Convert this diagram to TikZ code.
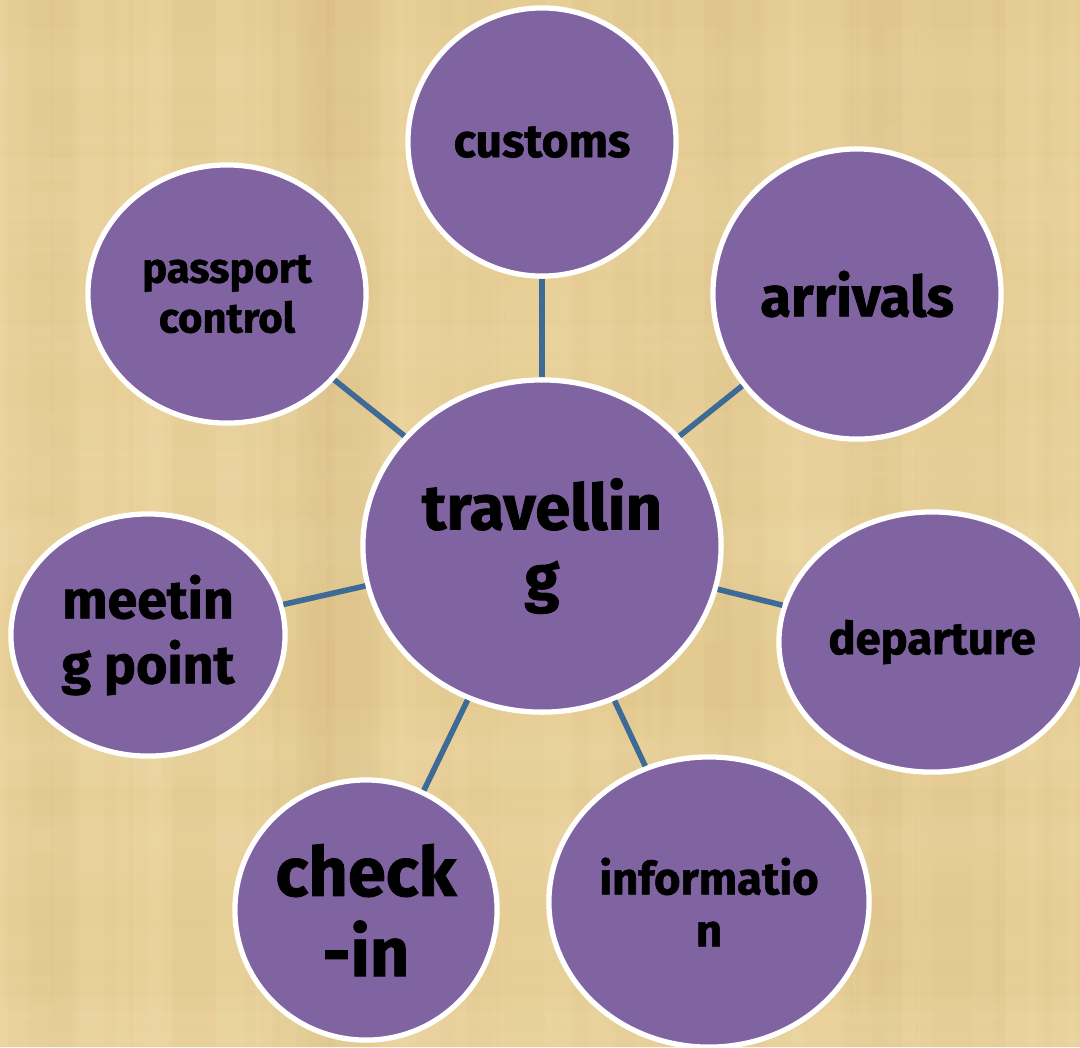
\documentclass[tikz,border=0pt]{standalone}
\usepackage{fontspec}
\setmainfont{Fira Sans}[BoldFeatures={FakeBold=1.2}]
\usetikzlibrary{shapes.geometric}

\definecolor{papier}{RGB}{233,208,152}
\definecolor{faser}{RGB}{200,165,100}
\definecolor{hell}{RGB}{248,232,185}
\definecolor{lila}{RGB}{128,100,162}
\definecolor{linie}{RGB}{62,106,150}

\newcommand{\schrift}[2]{\bfseries\fontsize{#1}{#2}\selectfont}

\tikzset{
  blase/.style={ellipse,draw=white,line width=1.5pt,fill=lila,inner sep=0pt,align=center,text=black},
  verbindung/.style={draw=linie,line width=1.6pt}
}

\begin{document}
\begin{tikzpicture}[x=0.01cm,y=-0.01cm]
    % Hintergrund
    \useasboundingbox (0,0) rectangle (1080,1047);
    \clip (0,0) rectangle (1080,1047);
    \fill[papier] (0,0) rectangle (1080,1047);
    \pgfmathsetseed{11}
    \foreach \i in {1,...,60} {
      \pgfmathsetmacro{\px}{random(0,1080)}
      \pgfmathsetmacro{\pw}{random(8,90)}
      \pgfmathsetmacro{\py}{random(0,1047)}
      \pgfmathsetmacro{\ph}{random(8,90)}
      \fill[faser,opacity=0.04] (\px,0) rectangle (\px+\pw,1047);
      \fill[hell,opacity=0.07] (0,\py) rectangle (1080,\py+\ph);
    }

    % Mitte
    \node[blase,minimum width=3.58cm,minimum height=3.32cm,font=\schrift{18}{20}] (reisen) at (542,546) {travellin\\g};

    % Aussen
    \node[blase,minimum width=2.68cm,minimum height=2.68cm,font=\schrift{13.2}{15}] (zoll) at (542,142) {customs};
    \node[blase,minimum width=2.88cm,minimum height=2.90cm,font=\schrift{16}{18}] (ankunft) at (857,294) {arrivals};
    \node[blase,minimum width=2.78cm,minimum height=2.58cm,font=\schrift{11.9}{14.2}] (pass) at (227,294) {passport\\control};
    \node[blase,minimum width=2.74cm,minimum height=2.42cm,font=\schrift{15.3}{18.5}] (treff) at (148,635) {meetin\\g point};
    \node[blase,minimum width=3.06cm,minimum height=2.60cm,font=\schrift{12.9}{15}] (abflug) at (932,642) {departure};
    \node[blase,minimum width=2.62cm,minimum height=2.60cm,font=\schrift{19.5}{22.8}] (checkin) at (366,910) {check\\-in};
    \node[blase,minimum width=3.20cm,minimum height=2.90cm,font=\schrift{12.9}{14.8}] (info) at (709,902) {informatio\\n};

    % Verbindungen
    \foreach \ziel in {zoll,ankunft,pass,treff,abflug,checkin,info}
      \draw[verbindung] (reisen) -- (\ziel);
\end{tikzpicture}
\end{document}
